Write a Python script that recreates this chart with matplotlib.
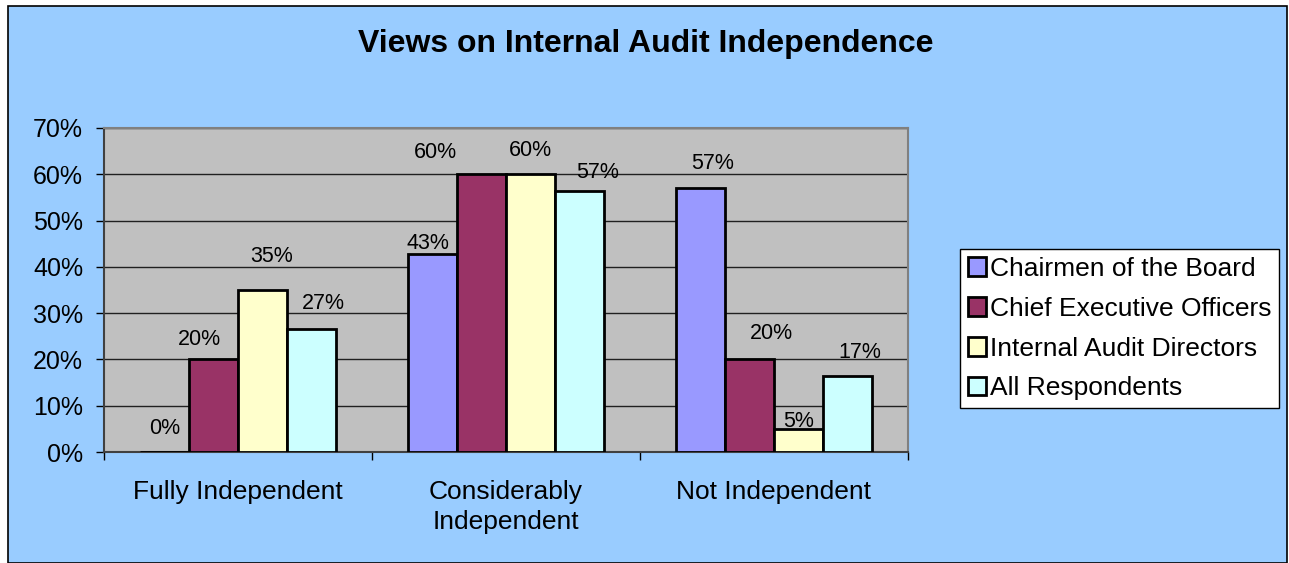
import matplotlib
matplotlib.use("Agg")
import matplotlib.pyplot as plt
from matplotlib.patches import Rectangle
import numpy as np

plt.rcParams['font.family'] = ['Liberation Sans', 'DejaVu Sans']

categories = ["Fully Independent", "Considerably\nIndependent", "Not Independent"]
series_names = ["Chairmen of the Board", "Chief Executive Officers",
                "Internal Audit Directors", "All Respondents"]
chairmen = [0.0, 42.7, 57.0]
ceos = [20.0, 60.0, 20.0]
iad = [35.0, 60.0, 4.9]
all_resp = [26.6, 56.4, 16.5]
labels_chairmen = ["0%", "43%", "57%"]
labels_ceos = ["20%", "60%", "20%"]
labels_iad = ["35%", "60%", "5%"]
labels_all = ["27%", "57%", "17%"]
yticks = [0, 10, 20, 30, 40, 50, 60, 70]
ytick_labels = ["0%", "10%", "20%", "30%", "40%", "50%", "60%", "70%"]

series = [chairmen, ceos, iad, all_resp]
series_labels = [labels_chairmen, labels_ceos, labels_iad, labels_all]
colors = ["#9999FF", "#993366", "#FFFFCC", "#CCFFFF"]

# label offsets in pixels (dx, dy from bar top centre), per series per category
label_offsets = [
    [(0, 23), (-5, 11), (12, 25)],
    [(-14, 20), (-46, 22), (22, 26)],
    [(9, 33), (0, 24), (0, 8)],
    [(12, 25), (18, 18), (12, 23)],
]

W, H = 1289, 563
fig = plt.figure(figsize=(W / 100, H / 100), dpi=100, facecolor="white")
bg = Rectangle((7.5 / W, 0), (1286.5 - 7.5) / W, (H - 5.5) / H, transform=fig.transFigure,
               facecolor="#99CCFF", edgecolor="black", linewidth=1.2, zorder=-10)
fig.patches.append(bg)

ax = fig.add_axes([104 / W, (H - 452) / H, (908 - 104) / W, (452 - 128) / H])
ax.set_facecolor("#C0C0C0")

x = np.arange(len(categories))
bw = 49 / 268
for i, (vals, col) in enumerate(zip(series, colors)):
    xs = x + (i - 1.5) * bw
    ax.bar(xs, vals, width=bw, color=col, edgecolor="black", linewidth=2,
           label=series_names[i], zorder=3)
    for j in range(len(categories)):
        dx, dy = label_offsets[i][j]
        ax.annotate(series_labels[i][j], (xs[j], vals[j]), xytext=(dx, dy),
                    textcoords="offset pixels", ha="center", va="center",
                    fontsize=15.5, color="black", zorder=4)

ax.set_xlim(-0.5, 2.5)
ax.set_ylim(0, 70)
ax.set_yticks(yticks)
ax.set_yticklabels(ytick_labels, fontsize=18)
ax.yaxis.grid(True, color="#202020", linewidth=1.0, zorder=0)
ax.set_axisbelow(True)

ax.set_xticks([-0.5, 0.5, 1.5, 2.5], minor=False)
ax.set_xticklabels([])
ax.set_xticks(x, minor=True)
ax.set_xticklabels(categories, minor=True, fontsize=19, linespacing=1.32)
ax.tick_params(axis="x", which="minor", length=0, pad=20)
ax.tick_params(axis="x", which="major", length=6, width=1, color="black", direction="out")
ax.tick_params(axis="y", length=6, width=1, color="black", direction="out", pad=9)

for side in ["top", "right"]:
    ax.spines[side].set_color("#808080")
    ax.spines[side].set_linewidth(1.5)
ax.spines["left"].set_color("#404040")
ax.spines["left"].set_linewidth(1.5)
ax.spines["bottom"].set_color("#404040")
ax.spines["bottom"].set_linewidth(1.5)

fig.text(646 / W, (H - 44) / H, "Views on Internal Audit Independence",
         ha="center", va="center", fontsize=23, fontweight="bold")

leg = fig.legend(loc="upper left", bbox_to_anchor=(960 / W, (H - 249) / H),
                 fontsize=19, frameon=True, fancybox=False, edgecolor="black",
                 facecolor="white", framealpha=1, borderpad=0.3, labelspacing=0.6,
                 handlelength=0.7, handleheight=0.7, handletextpad=0.12,
                 borderaxespad=0)
leg.get_frame().set_linewidth(1)

fig.savefig("out.png", dpi=100, facecolor=fig.get_facecolor())
